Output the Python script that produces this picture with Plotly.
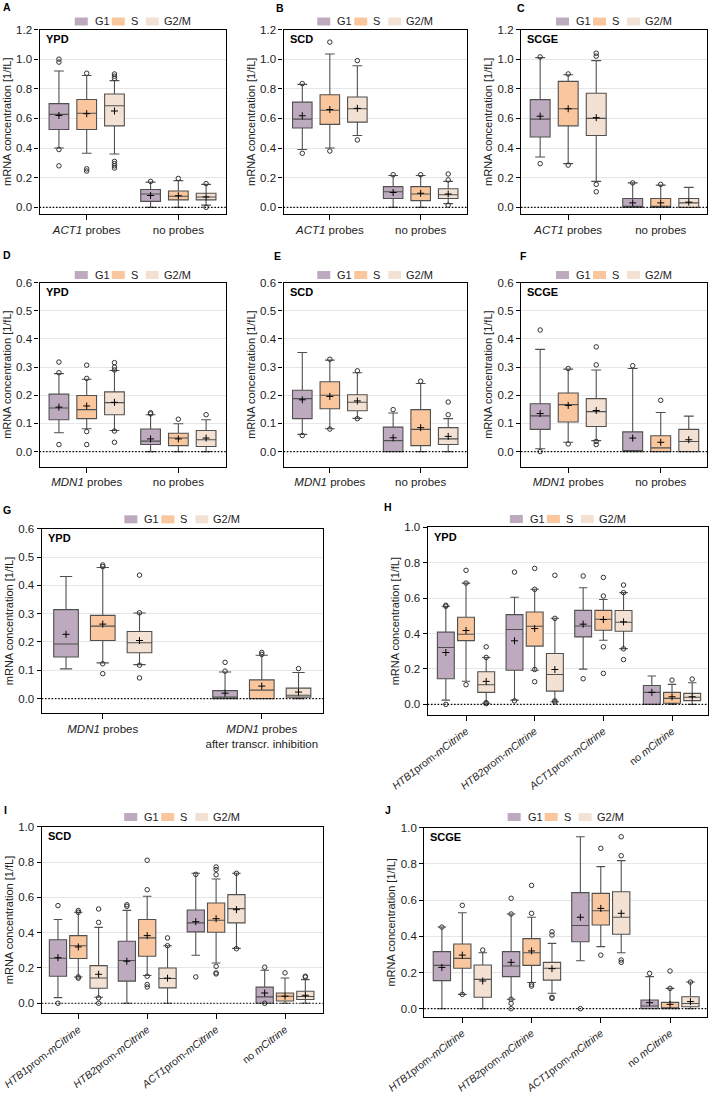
import plotly.graph_objects as go

W, H = 710, 1094
PHASES = ["G1", "S", "G2/M"]
FILL = ["#bdaabf", "#f9c69d", "#f3e2d3"]
LINE = "#505050"
FONT = "Liberation Sans, Arial, sans-serif"

# ---------------- data: rows = G1, S, G2/M ; columns = categories ----------------
A_CATS = ["<i>ACT1</i> probes", "no probes"]
A_LOW = [[0.40, 0.0], [0.365, 0.0], [0.36, 0.015]]
A_Q1 = [[0.525, 0.04], [0.525, 0.05], [0.55, 0.05]]
A_MED = [[0.627, 0.09], [0.635, 0.075], [0.685, 0.07]]
A_Q3 = [[0.70, 0.12], [0.728, 0.11], [0.765, 0.095]]
A_HIGH = [[0.92, 0.17], [0.89, 0.18], [0.855, 0.155]]
A_MEAN = [[0.62, 0.08], [0.632, 0.078], [0.65, 0.07]]
A_OUT = [[[0.28, 0.39, 0.98, 1.0], [0.175]],
         [[0.245, 0.26, 0.905], [0.195]],
         [[0.265, 0.28, 0.295, 0.31, 0.87, 0.885, 0.90], [0.0, 0.16]]]

B_CATS = ["<i>ACT1</i> probes", "no probes"]
B_LOW = [[0.39, 0.0], [0.40, 0.0], [0.485, 0.025]]
B_Q1 = [[0.535, 0.06], [0.56, 0.045], [0.575, 0.06]]
B_MED = [[0.595, 0.105], [0.655, 0.09], [0.665, 0.085]]
B_Q3 = [[0.71, 0.14], [0.76, 0.14], [0.745, 0.125]]
B_HIGH = [[0.83, 0.215], [1.035, 0.215], [0.955, 0.175]]
B_MEAN = [[0.618, 0.10], [0.66, 0.095], [0.668, 0.09]]
B_OUT = [[[0.365, 0.835], [0.22]],
         [[0.38, 1.115], [0.22]],
         [[0.455, 0.99], [0.015, 0.185, 0.225]]]

C_CATS = ["<i>ACT1</i> probes", "no probes"]
C_LOW = [[0.34, 0.0], [0.295, 0.0], [0.175, 0.0]]
C_Q1 = [[0.475, 0.0], [0.55, 0.0], [0.485, 0.0]]
C_MED = [[0.595, 0.0], [0.665, 0.0], [0.60, 0.03]]
C_Q3 = [[0.727, 0.06], [0.85, 0.06], [0.77, 0.06]]
C_HIGH = [[1.01, 0.165], [0.895, 0.15], [0.99, 0.135]]
C_MEAN = [[0.615, 0.03], [0.665, 0.03], [0.605, 0.035]]
C_OUT = [[[0.295, 1.015], [0.165]],
         [[0.285, 0.9], [0.155]],
         [[0.105, 0.155, 1.02, 1.04], []]]

D_CATS = ["<i>MDN1</i> probes", "no probes"]
D_LOW = [[0.067, 0.0], [0.081, 0.0], [0.075, 0.0]]
D_Q1 = [[0.113, 0.025], [0.117, 0.021], [0.131, 0.018]]
D_MED = [[0.155, 0.037], [0.149, 0.048], [0.174, 0.042]]
D_Q3 = [[0.204, 0.08], [0.199, 0.065], [0.212, 0.075]]
D_HIGH = [[0.277, 0.131], [0.257, 0.099], [0.288, 0.113]]
D_MEAN = [[0.158, 0.045], [0.162, 0.045], [0.175, 0.048]]
D_OUT = [[[0.025, 0.28, 0.318], [0.134, 0.138]],
         [[0.025, 0.071, 0.26, 0.307], [0.115]],
         [[0.033, 0.073, 0.29, 0.30, 0.316], [0.131]]]

E_CATS = ["<i>MDN1</i> probes", "no probes"]
E_LOW = [[0.061, 0.0], [0.081, 0.0], [0.118, 0.0]]
E_Q1 = [[0.117, 0.0], [0.152, 0.021], [0.145, 0.025]]
E_MED = [[0.188, 0.039], [0.2, 0.079], [0.175, 0.045]]
E_Q3 = [[0.218, 0.087], [0.248, 0.149], [0.202, 0.085]]
E_HIGH = [[0.352, 0.137], [0.325, 0.242], [0.28, 0.117]]
E_MEAN = [[0.184, 0.049], [0.196, 0.085], [0.18, 0.054]]
E_OUT = [[[0.057], [0.149]],
         [[0.08, 0.328], [0.25]],
         [[0.117, 0.287], [0.131, 0.176]]]

F_CATS = ["<i>MDN1</i> probes", "no probes"]
F_LOW = [[0.01, 0.0], [0.033, 0.0], [0.039, 0.0]]
F_Q1 = [[0.079, 0.0], [0.105, 0.0], [0.089, 0.0]]
F_MED = [[0.127, 0.0], [0.167, 0.013], [0.142, 0.036]]
F_Q3 = [[0.17, 0.07], [0.208, 0.056], [0.188, 0.079]]
F_HIGH = [[0.363, 0.295], [0.293, 0.139], [0.29, 0.126]]
F_MEAN = [[0.135, 0.048], [0.164, 0.033], [0.146, 0.042]]
F_OUT = [[[0.0, 0.432], [0.305]],
         [[0.027, 0.295], [0.182]],
         [[0.025, 0.036, 0.308, 0.372], []]]

G_CATS = ["<i>MDN1</i> probes", "<i>MDN1</i> probes<br>after transcr. inhibition"]
G_LOW = [[0.105, 0.0], [0.126, 0.0], [0.12, 0.0]]
G_Q1 = [[0.147, 0.0], [0.205, 0.0], [0.162, 0.005]]
G_MED = [[0.193, 0.005], [0.256, 0.03], [0.197, 0.012]]
G_Q3 = [[0.314, 0.028], [0.294, 0.066], [0.237, 0.037]]
G_HIGH = [[0.431, 0.094], [0.463, 0.153], [0.302, 0.092]]
G_MEAN = [[0.227, 0.019], [0.263, 0.044], [0.205, 0.023]]
G_OUT = [[[], [0.097, 0.128]],
         [[0.088, 0.123, 0.466, 0.472], [0.156, 0.163]],
         [[0.073, 0.118, 0.303, 0.436], [0.106]]]

HIJ_CATS = ["<i>HTB1</i>prom-<i>mCitrine</i>", "<i>HTB2</i>prom-<i>mCitrine</i>",
            "<i>ACT1</i>prom-<i>mCitrine</i>", "no <i>mCitrine</i>"]

H_LOW = [[0.024, 0.024, 0.199, 0.0], [0.131, 0.193, 0.362, 0.0], [0.006, 0.015, 0.315, 0.0]]
H_Q1 = [[0.145, 0.193, 0.381, 0.0], [0.36, 0.329, 0.419, 0.006], [0.068, 0.075, 0.413, 0.021]]
H_MED = [[0.321, 0.423, 0.443, 0.068], [0.396, 0.441, 0.481, 0.034], [0.111, 0.169, 0.464, 0.04]]
H_Q3 = [[0.408, 0.507, 0.531, 0.107], [0.492, 0.522, 0.531, 0.068], [0.184, 0.287, 0.53, 0.062]]
H_HIGH = [[0.554, 0.605, 0.659, 0.16], [0.685, 0.65, 0.592, 0.113], [0.265, 0.486, 0.631, 0.122]]
H_MEAN = [[0.293, 0.359, 0.453, 0.068], [0.417, 0.428, 0.479, 0.043], [0.13, 0.197, 0.466, 0.043]]
H_OUT = [[[0.0, 0.554, 0.56], [0.02, 0.747], [0.145, 0.725], []],
         [[0.111, 0.685, 0.757], [0.128, 0.197, 0.65, 0.768], [0.175, 0.325, 0.612, 0.717], [0.137]],
         [[0.004, 0.01, 0.265, 0.325], [0.013, 0.02, 0.486, 0.729], [0.253, 0.314, 0.631, 0.674], [0.143]]]

I_LOW = [[0.032, 0.0, 0.272, 0.0], [0.149, 0.157, 0.228, 0.0], [0.034, 0.0, 0.311, 0.0]]
I_Q1 = [[0.153, 0.125, 0.404, 0.0], [0.253, 0.266, 0.402, 0.013], [0.085, 0.087, 0.455, 0.021]]
I_MED = [[0.255, 0.242, 0.455, 0.036], [0.326, 0.37, 0.47, 0.04], [0.143, 0.14, 0.536, 0.038]]
I_Q3 = [[0.36, 0.351, 0.528, 0.091], [0.383, 0.474, 0.568, 0.058], [0.213, 0.2, 0.615, 0.068]]
I_HIGH = [[0.474, 0.526, 0.736, 0.187], [0.515, 0.606, 0.704, 0.143], [0.43, 0.326, 0.736, 0.134]]
I_MEAN = [[0.258, 0.238, 0.462, 0.058], [0.319, 0.383, 0.479, 0.04], [0.164, 0.142, 0.53, 0.045]]
I_OUT = [[[0.0, 0.553], [0.549, 0.558], [0.149, 0.73], [0.0, 0.204]],
         [[0.142, 0.149, 0.515, 0.525], [0.092, 0.106, 0.153, 0.643, 0.81], [0.166, 0.172, 0.209, 0.728, 0.757, 0.772], [0.172]],
         [[0.0, 0.03, 0.458, 0.534], [0.326, 0.37], [0.309, 0.736], [0.148, 0.153]]]

J_LOW = [[0.0, 0.052, 0.265, 0.0], [0.079, 0.145, 0.343, 0.0], [0.0, 0.085, 0.309, 0.0]]
J_Q1 = [[0.155, 0.177, 0.37, 0.0], [0.223, 0.239, 0.462, 0.0], [0.063, 0.158, 0.411, 0.011]]
J_MED = [[0.239, 0.236, 0.46, 0.015], [0.278, 0.309, 0.541, 0.0], [0.162, 0.223, 0.505, 0.029]]
J_Q3 = [[0.315, 0.315, 0.641, 0.048], [0.357, 0.387, 0.637, 0.035], [0.241, 0.256, 0.646, 0.066]]
J_HIGH = [[0.451, 0.523, 0.95, 0.177], [0.53, 0.505, 0.785, 0.112], [0.309, 0.361, 0.818, 0.147]]
J_MEAN = [[0.228, 0.256, 0.505, 0.033], [0.296, 0.319, 0.554, 0.024], [0.153, 0.221, 0.527, 0.039]]
J_OUT = [[[0.451], [0.0, 0.03, 0.052, 0.523, 0.61], [0.0], [0.195]],
         [[0.079, 0.571], [0.125, 0.135, 0.527, 0.681], [0.296, 0.886], [0.112, 0.208]],
         [[0.324], [0.057, 0.063, 0.407, 0.425], [0.256, 0.269, 0.845, 0.95], [0.147]]]

# ---------------- layout of panels (pixel frames: left, top, right, bottom) ----------------
PANELS = [
    dict(L="A", M="YPD", cats=A_CATS, d=(A_LOW, A_Q1, A_MED, A_Q3, A_HIGH, A_MEAN, A_OUT),
         fr=(39.5, 29.5, 226, 214), yr=[-0.045, 1.2], dt=0.2, xr=[-0.515, 1.52], off=0.303, bw=0.215, ang=0,
         lp=(1, 7), ly=21.5),
    dict(L="B", M="SCD", cats=B_CATS, d=(B_LOW, B_Q1, B_MED, B_Q3, B_HIGH, B_MEAN, B_OUT),
         fr=(283.5, 29.5, 467, 214), yr=[-0.045, 1.2], dt=0.2, xr=[-0.51, 1.51], off=0.303, bw=0.215, ang=0,
         lp=(274, 8), ly=21.5),
    dict(L="C", M="SCGE", cats=C_CATS, d=(C_LOW, C_Q1, C_MED, C_Q3, C_HIGH, C_MEAN, C_OUT),
         fr=(521, 29.5, 707, 214), yr=[-0.045, 1.2], dt=0.2, xr=[-0.51, 1.5], off=0.303, bw=0.215, ang=0,
         lp=(515, 8), ly=21.5),
    dict(L="D", M="YPD", cats=D_CATS, d=(D_LOW, D_Q1, D_MED, D_Q3, D_HIGH, D_MEAN, D_OUT),
         fr=(39.5, 282.7, 226, 466.5), yr=[-0.053, 0.6], dt=0.1, xr=[-0.515, 1.52], off=0.303, bw=0.215, ang=0,
         lp=(1, 255), ly=275),
    dict(L="E", M="SCD", cats=E_CATS, d=(E_LOW, E_Q1, E_MED, E_Q3, E_HIGH, E_MEAN, E_OUT),
         fr=(283.5, 282.7, 467, 466.5), yr=[-0.053, 0.6], dt=0.1, xr=[-0.51, 1.51], off=0.303, bw=0.215, ang=0,
         lp=(272, 256), ly=275),
    dict(L="F", M="SCGE", cats=F_CATS, d=(F_LOW, F_Q1, F_MED, F_Q3, F_HIGH, F_MEAN, F_OUT),
         fr=(521, 282.7, 707, 466.5), yr=[-0.053, 0.6], dt=0.1, xr=[-0.51, 1.5], off=0.303, bw=0.215, ang=0,
         lp=(518, 256), ly=275),
    dict(L="G", M="YPD", cats=G_CATS, d=(G_LOW, G_Q1, G_MED, G_Q3, G_HIGH, G_MEAN, G_OUT),
         fr=(41.7, 528.7, 323, 713.3), yr=[-0.052, 0.6], dt=0.1, xr=[-0.384, 1.385], off=0.231, bw=0.155, ang=0,
         lp=(1, 510), ly=519.3),
    dict(L="H", M="YPD", cats=HIJ_CATS, d=(H_LOW, H_Q1, H_MED, H_Q3, H_HIGH, H_MEAN, H_OUT),
         fr=(427.7, 527.3, 708, 715), yr=[-0.06, 1.0], dt=0.2, xr=[-0.558, 3.524], off=0.294, bw=0.246, ang=-38,
         lp=(382, 507), ly=519),
    dict(L="I", M="SCD", cats=HIJ_CATS, d=(I_LOW, I_Q1, I_MED, I_Q3, I_HIGH, I_MEAN, I_OUT),
         fr=(41.7, 826.7, 322.7, 1013.3), yr=[-0.057, 1.0], dt=0.2, xr=[-0.531, 3.547], off=0.295, bw=0.25, ang=-38,
         lp=(2, 810), ly=817),
    dict(L="J", M="SCGE", cats=HIJ_CATS, d=(J_LOW, J_Q1, J_MED, J_Q3, J_HIGH, J_MEAN, J_OUT),
         fr=(424.3, 827.7, 707, 1017), yr=[-0.046, 1.0], dt=0.2, xr=[-0.549, 3.534], off=0.295, bw=0.25, ang=-38,
         lp=(383, 810), ly=817),
]


def px(x):
    return x / W


def py(y):
    return 1 - y / H


fig = go.Figure()
shapes, annotations = [], []
layout_axes = {}

for i, p in enumerate(PANELS, start=1):
    sfx = "" if i == 1 else str(i)
    xa, ya = "x" + sfx, "y" + sfx
    low, q1, med, q3, high, mean, out = p["d"]
    ncat = len(p["cats"])
    for k in range(3):
        pos = [c + (k - 1) * p["off"] for c in range(ncat)]
        fig.add_trace(go.Box(
            x=pos, q1=q1[k], median=med[k], q3=q3[k], lowerfence=low[k], upperfence=high[k],
            boxpoints=False, width=p["bw"], whiskerwidth=0.5, fillcolor=FILL[k],
            line=dict(color=LINE, width=1.1), name=PHASES[k], showlegend=False,
            xaxis=xa, yaxis=ya, hoverinfo="skip"))
        ox = [pos[c] for c in range(ncat) for _ in out[k][c]]
        oy = [v for c in range(ncat) for v in out[k][c]]
        fig.add_trace(go.Scatter(
            x=ox, y=oy, mode="markers", showlegend=False, xaxis=xa, yaxis=ya, hoverinfo="skip",
            marker=dict(symbol="circle-open", size=4.5, color="#333333", line=dict(width=1))))
        fig.add_trace(go.Scatter(
            x=pos, y=mean[k], mode="markers", showlegend=False, xaxis=xa, yaxis=ya, hoverinfo="skip",
            marker=dict(symbol="cross-thin", size=5, color="black", line=dict(width=1, color="black"))))

    l, t, r, b = p["fr"]
    rotated = p["ang"] != 0
    layout_axes["xaxis" + sfx] = dict(
        domain=[px(l), px(r)], anchor=ya, range=p["xr"], tickmode="array", automargin=False,
        tickvals=list(range(ncat)), ticktext=p["cats"], tickangle=p["ang"], ticklabeloverflow="allow",
        showline=True, mirror=True, linecolor="black", linewidth=1.3,
        ticks="outside", ticklen=5, tickwidth=1.2, tickcolor="black",
        showgrid=False, zeroline=False, tickfont=dict(size=10.5 if rotated else 11.5, color="#222"))
    layout_axes["yaxis" + sfx] = dict(
        domain=[py(b), py(t)], anchor=xa, range=p["yr"], tick0=0, dtick=p["dt"], tickformat=".1f",
        automargin=False, ticklabeloverflow="allow",
        showline=True, mirror=True, linecolor="black", linewidth=1.3,
        ticks="outside", ticklen=4, tickwidth=1.2, tickcolor="black",
        showgrid=True, gridcolor="#e6e6e6", gridwidth=1, zeroline=False,
        tickfont=dict(size=11.5, color="#222"),
        title=dict(text="mRNA concentration [1/fL]", font=dict(size=11, color="#222"), standoff=2))

    # dotted zero line
    shapes.append(dict(type="line", xref=f"{xa} domain", x0=0, x1=1, yref=ya, y0=0, y1=0,
                       line=dict(color="black", width=1.2, dash="1.5px,1.8px"), layer="above"))
    # panel letter and medium label
    annotations.append(dict(text=f"<b>{p['L']}</b>", x=px(p["lp"][0]), y=py(p["lp"][1]), xref="paper",
                            yref="paper", xanchor="left", yanchor="middle", showarrow=False,
                            font=dict(size=10.5, color="black")))
    annotations.append(dict(text=f"<b>{p['M']}</b>", x=px(l + 4), y=py(t + 9.5), xref="paper", yref="paper",
                            xanchor="left", yanchor="middle", showarrow=False, font=dict(size=11, color="black")))
    # legend
    cx = (l + r) / 2
    start = cx - 58
    sq_off = [0, 37, 71]
    tx_off = [18, 54, 87]
    ly = p["ly"]
    for k in range(3):
        x0 = start + sq_off[k]
        shapes.append(dict(type="rect", xref="paper", yref="paper", x0=px(x0), x1=px(x0 + 13),
                           y0=py(ly + 4), y1=py(ly - 4), fillcolor=FILL[k], line=dict(width=0)))
        annotations.append(dict(text=PHASES[k], x=px(start + tx_off[k]), y=py(ly), xref="paper", yref="paper",
                                xanchor="left", yanchor="middle", showarrow=False,
                                font=dict(size=11, color="#222")))

fig.update_layout(
    width=W, height=H, margin=dict(l=0, r=0, t=0, b=0, autoexpand=False),
    paper_bgcolor="white", plot_bgcolor="white",
    font=dict(family=FONT, color="#222"),
    showlegend=False, shapes=shapes, annotations=annotations, **layout_axes)

# the page's default 8px body margin would shift the figure; remove it
fig.write_html("out.html", config={"displayModeBar": False},
               post_script="document.body.style.margin='0px';document.body.style.overflow='hidden';")
